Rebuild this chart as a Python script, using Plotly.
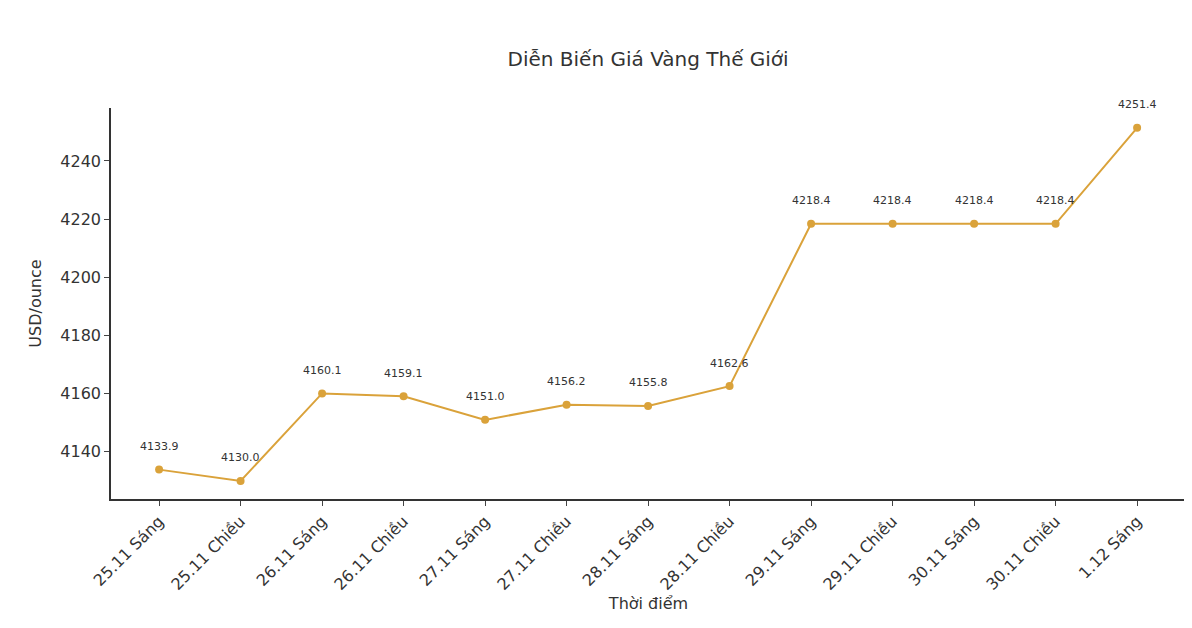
import plotly.graph_objects as go

labels = ["25.11 Sáng","25.11 Chiều","26.11 Sáng","26.11 Chiều","27.11 Sáng","27.11 Chiều",
          "28.11 Sáng","28.11 Chiều","29.11 Sáng","29.11 Chiều","30.11 Sáng","30.11 Chiều","1.12 Sáng"]
values = [4133.9,4130.0,4160.1,4159.1,4151.0,4156.2,4155.8,4162.6,4218.4,4218.4,4218.4,4218.4,4251.4]

color = "#DAA23A"
x = list(range(len(labels)))
fig = go.Figure(go.Scatter(x=x, y=values, mode="lines+markers+text",
    line=dict(color=color, width=2), marker=dict(color=color, size=8),
    text=[f"{v:.1f}" for v in values], textposition="top center",
    textfont=dict(size=11, color="#333", family="DejaVu Sans")))
fig.update_traces(cliponaxis=False)
# push labels higher with annotations instead
fig.data[0].mode = "lines+markers"
for xi, v in zip(x, values):
    fig.add_annotation(x=xi, y=v, text=f"{v:.1f}", showarrow=False, yshift=23,
                       font=dict(size=11, color="#333", family="DejaVu Sans"))

fig.update_layout(
    width=1192, height=628, plot_bgcolor="white", paper_bgcolor="white",
    font=dict(family="DejaVu Sans", color="#333"),
    title=dict(text="Diễn Biến Giá Vàng Thế Giới", x=0.537, xanchor="center", y=0.93,
               font=dict(size=20, color="#333")),
    margin=dict(l=103, r=14, t=100, b=137),
    showlegend=False,
    xaxis=dict(tickmode="array", tickvals=x, ticktext=labels, tickangle=-45,
               range=[-0.59, 12.6], showgrid=False, showline=True, linecolor="#333",
               linewidth=1.5, ticks="outside", ticklen=5, tickfont=dict(size=16, color="#333"),
               title=dict(text="Thời điểm", font=dict(size=16), standoff=5), zeroline=False),
    yaxis=dict(range=[4123.8, 4258.2], tickvals=[4140,4160,4180,4200,4220,4240],
               showgrid=False, showline=True, linecolor="#333", linewidth=1.5,
               ticks="outside", ticklen=5, tickfont=dict(size=16, color="#333"),
               title=dict(text="USD/ounce", font=dict(size=16)), zeroline=False),
)
fig.write_html("out.html")
